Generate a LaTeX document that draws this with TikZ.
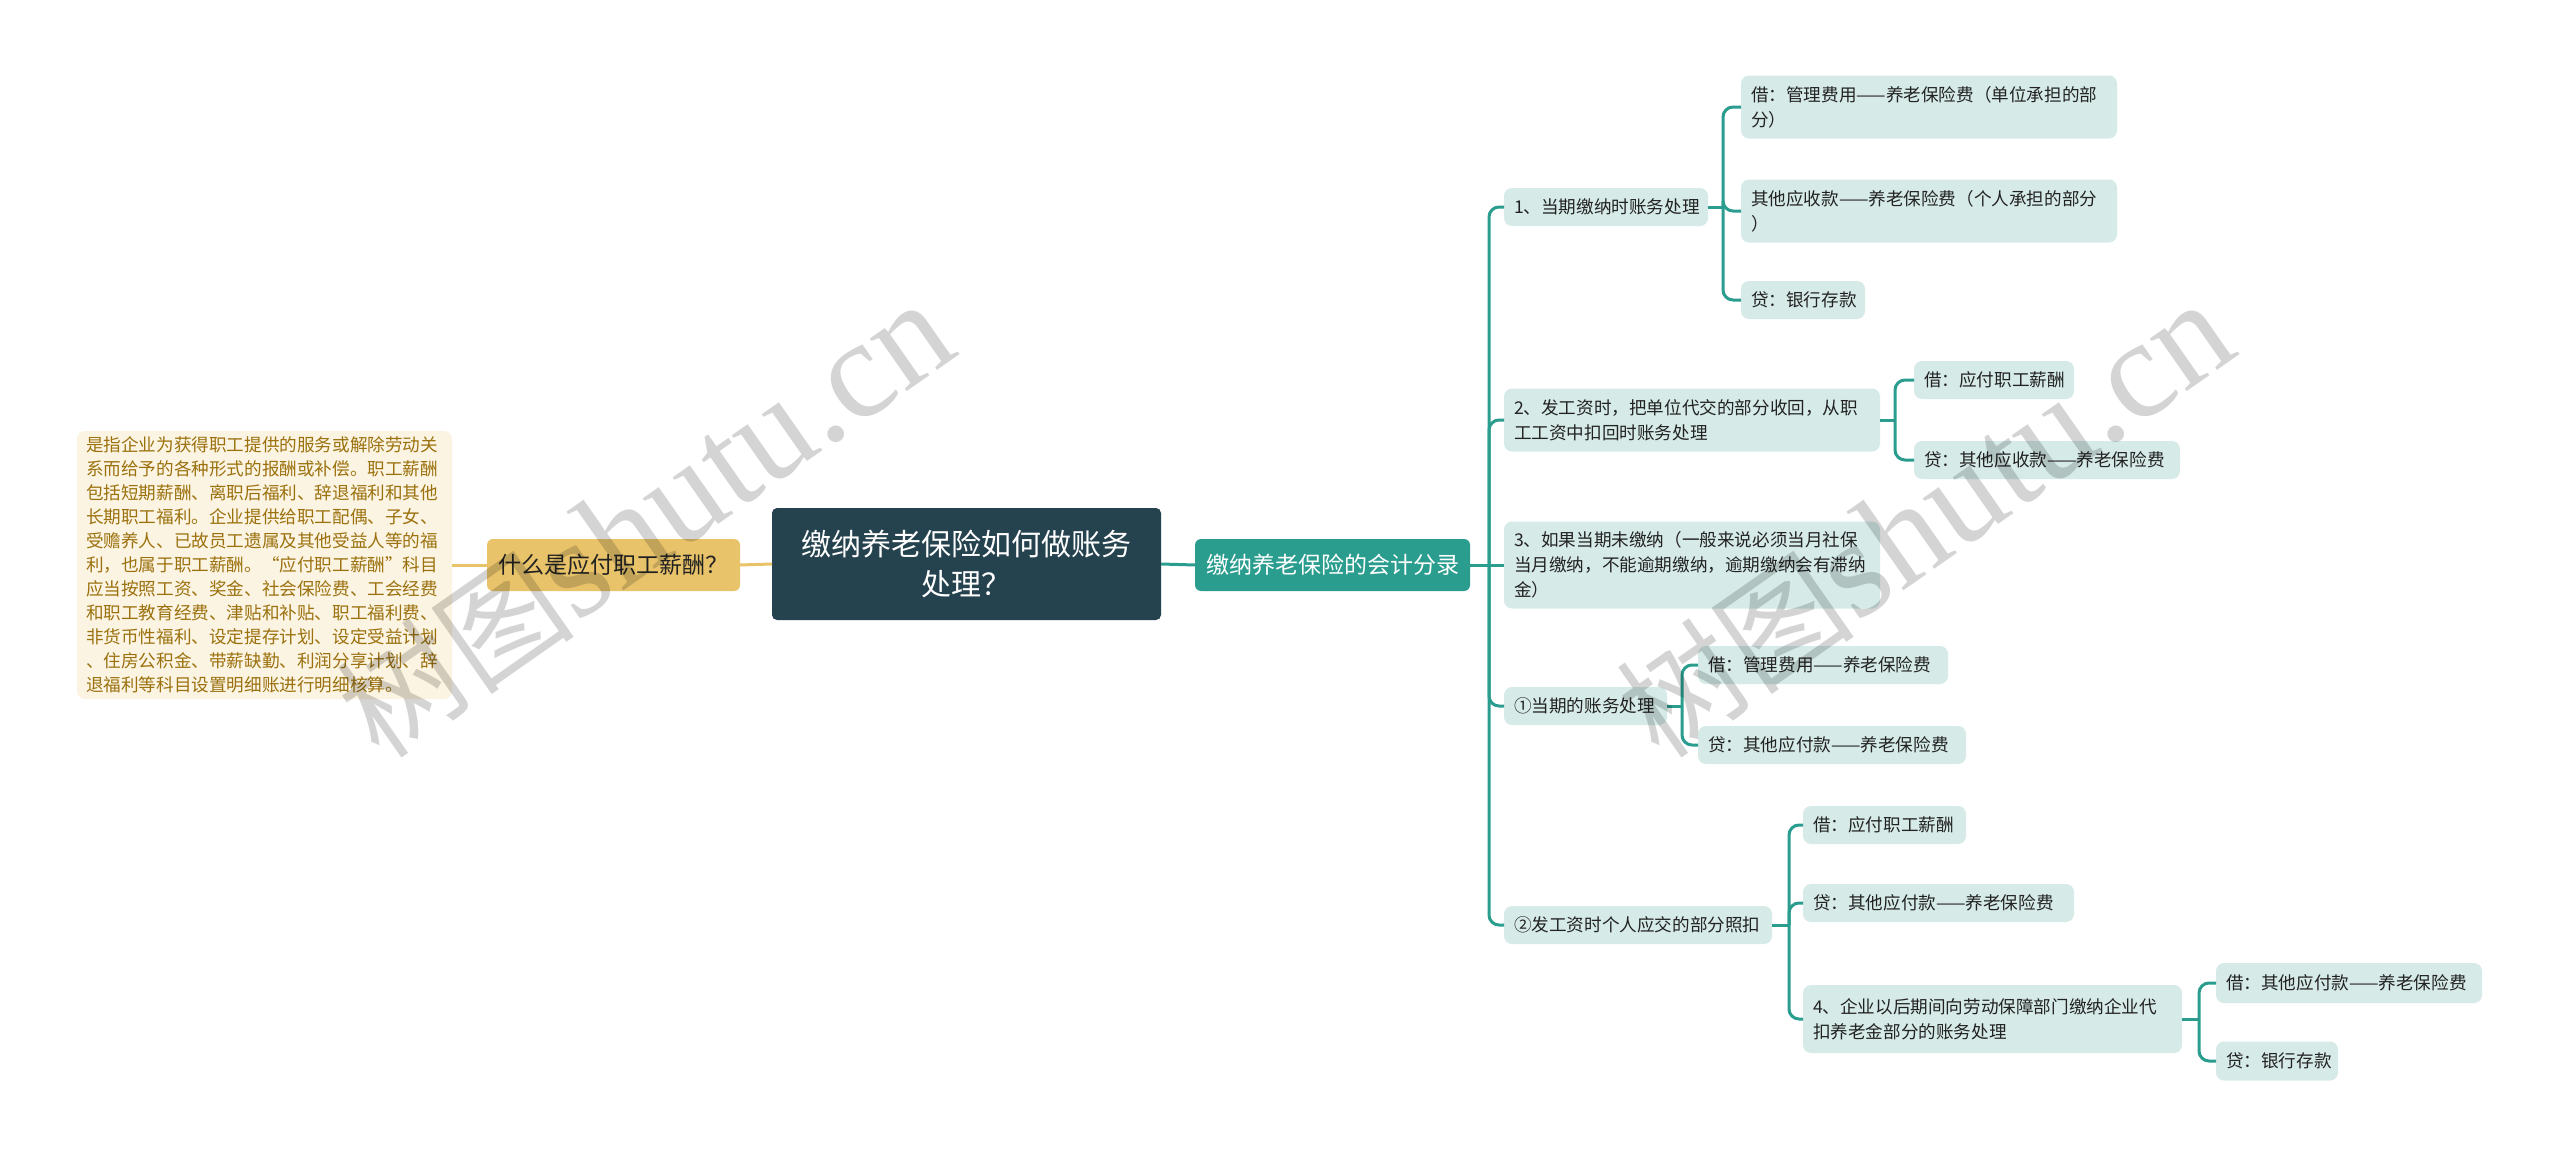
\documentclass[tikz,border=0pt]{standalone}
\usepackage{fontspec}
\setmainfont{Noto Sans CJK SC}
\newfontfamily\wmserif{Liberation Serif}
\definecolor{rootc}{RGB}{37,66,79}
\definecolor{yel}{RGB}{232,195,106}
\definecolor{cream}{RGB}{252,244,226}
\definecolor{gold}{RGB}{155,113,14}
\definecolor{tealc}{RGB}{42,157,143}
\definecolor{leafc}{RGB}{214,235,232}
\definecolor{ink}{RGB}{34,34,34}
\tikzset{
  every node/.style={inner sep=0pt, outer sep=0pt},
  rootbox/.style={fill=rootc, rounded corners=5pt, text=white, align=center,
    font=\fontsize{30}{40}\selectfont, minimum width=389pt, minimum height=112pt},
  yelbox/.style={fill=yel, rounded corners=6pt, text=ink, align=center,
    font=\fontsize{23}{28}\selectfont, minimum width=253pt, minimum height=52pt},
  secbox/.style={fill=tealc, rounded corners=6pt, text=white, align=center,
    font=\fontsize{23}{28}\selectfont, minimum width=275pt, minimum height=52pt},
  notebox/.style={fill=cream, rounded corners=8pt, text=gold, align=left, anchor=west,
    font=\fontsize{17.6}{24}\selectfont, inner xsep=9pt, text width=357pt, minimum height=268pt},
  leafbox/.style 2 args={fill=leafc, rounded corners=8pt, text=ink, align=left, anchor=west,
    font=\fontsize{17.6}{25}\selectfont, inner xsep=10pt, text width=#1pt-20pt, minimum height=#2pt},
  tconn/.style={draw=tealc, line width=3pt, rounded corners=10pt},
  yconn/.style={draw=yel, line width=3pt},
  wmark/.style={text=black, opacity=0.17, rotate=35, anchor=center}
}
\begin{document}
\begin{tikzpicture}[x=1pt,y=-1pt]
\useasboundingbox (0,0) rectangle (2560,1159);
\fill[white] (0,0) rectangle (2560,1159);

% central and first level
\node[rootbox] (root) at (966.5,564) {缴纳养老保险如何做账务\\处理？};
\node[yelbox] (what) at (613.5,565) {什么是应付职工薪酬？};
\node[notebox] (note) at (77,565) {是指企业为获得职工提供的服务或解除劳动关\\系而给予的各种形式的报酬或补偿。职工薪酬\\包括短期薪酬、离职后福利、辞退福利和其他\\长期职工福利。企业提供给职工配偶、子女、\\受赡养人、已故员工遗属及其他受益人等的福\\利，也属于职工薪酬。“应付职工薪酬”科目\\应当按照工资、奖金、社会保险费、工会经费\\和职工教育经费、津贴和补贴、职工福利费、\\非货币性福利、设定提存计划、设定受益计划\\、住房公积金、带薪缺勤、利润分享计划、辞\\退福利等科目设置明细账进行明细核算。};
\node[secbox] (sec) at (1332.5,565) {缴纳养老保险的会计分录};

% second level
\node[leafbox={204}{38}] (n1) at (1504,207) {1、当期缴纳时账务处理};
\node[leafbox={376}{63}] (n2) at (1504,420) {2、发工资时，把单位代交的部分收回，从职\\工工资中扣回时账务处理};
\node[leafbox={376}{87}] (n3) at (1504,565) {3、如果当期未缴纳（一般来说必须当月社保\\当月缴纳，不能逾期缴纳，逾期缴纳会有滞纳\\金）};
\node[leafbox={163}{38}] (n4) at (1504,706) {①当期的账务处理};
\node[leafbox={268}{38}] (n5) at (1504,925) {②发工资时个人应交的部分照扣};

% third level
\node[leafbox={376}{63}] (a1) at (1741,107) {借：管理费用——养老保险费（单位承担的部\\分）};
\node[leafbox={376}{63}] (a2) at (1741,211) {其他应收款——养老保险费（个人承担的部分\\）};
\node[leafbox={124}{38}] (a3) at (1741,300) {贷：银行存款};
\node[leafbox={160}{38}] (b1) at (1914,380) {借：应付职工薪酬};
\node[leafbox={266}{38}] (b2) at (1914,460) {贷：其他应收款——养老保险费};
\node[leafbox={250}{38}] (c1) at (1698,665) {借：管理费用——养老保险费};
\node[leafbox={268}{38}] (c2) at (1698,745) {贷：其他应付款——养老保险费};
\node[leafbox={163}{38}] (d1) at (1803,825) {借：应付职工薪酬};
\node[leafbox={271}{38}] (d2) at (1803,903) {贷：其他应付款——养老保险费};
\node[leafbox={379}{68}] (d3) at (1803,1019) {4、企业以后期间向劳动保障部门缴纳企业代\\扣养老金部分的账务处理};
\node[leafbox={266}{40}] (e1) at (2216,983) {借：其他应付款——养老保险费};
\node[leafbox={122}{39}] (e2) at (2216,1061) {贷：银行存款};

% junction points
\coordinate (j0) at ([xshift=19pt]sec.east);
\coordinate (j1) at ([xshift=15pt]n1.east);
\coordinate (j2) at ([xshift=15pt]n2.east);
\coordinate (j4) at ([xshift=15pt]n4.east);
\coordinate (j5) at ([xshift=17pt]n5.east);
\coordinate (j6) at ([xshift=17pt]d3.east);

% connectors
\draw[yconn] (root.west) -- (what.east);
\draw[yconn] (what.west) -- (note.east);
\draw[tconn] (root.east) -- (sec.west);
\draw[tconn] (sec.east) -- (j0);
\foreach \c in {n1,n2,n4,n5} \draw[tconn] (j0) |- (\c.west);
\draw[tconn] (j0) -- (n3.west);
\draw[tconn] (n1.east) -- (j1);
\foreach \c in {a1,a2,a3} \draw[tconn] (j1) |- (\c.west);
\draw[tconn] (n2.east) -- (j2);
\foreach \c in {b1,b2} \draw[tconn] (j2) |- (\c.west);
\draw[tconn] (n4.east) -- (j4);
\foreach \c in {c1,c2} \draw[tconn] (j4) |- (\c.west);
\draw[tconn] (n5.east) -- (j5);
\foreach \c in {d1,d2,d3} \draw[tconn] (j5) |- (\c.west);
\draw[tconn] (d3.east) -- (j6);
\foreach \c in {e1,e2} \draw[tconn] (j6) |- (\c.west);

% watermarks
\node[wmark] (wm1) at (645,520) {\fontsize{120}{120}\selectfont 树图\wmserif\fontsize{140}{140}\selectfont shutu.cn};
\node[wmark] (wm2) at (1925,520) {\fontsize{120}{120}\selectfont 树图\wmserif\fontsize{140}{140}\selectfont shutu.cn};
\end{tikzpicture}
\end{document}
